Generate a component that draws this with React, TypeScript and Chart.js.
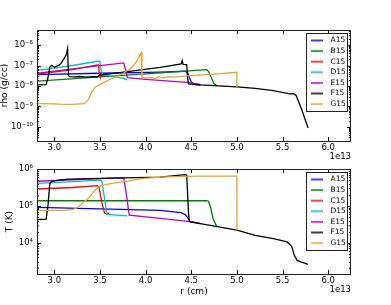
import { useEffect, useRef } from "react";
import { Chart, registerables } from "chart.js";

Chart.register(...registerables);

const FONT = "'DejaVu Sans', 'Bitstream Vera Sans', sans-serif";

const seriesNames = ["A15", "B15", "C15", "D15", "E15", "F15", "G15"];
const seriesColors = ["#0000ff", "#008000", "#ff0000", "#00bfbf", "#bf00bf", "#000000", "#e8a528"];

// radius axis, in units of 1e13 cm
const xTickValues = [3.0, 3.5, 4.0, 4.5, 5.0, 5.5, 6.0];
const xMin = 2.81;
const xMax = 6.25;

const rhoTickValues = [1e-10, 1e-9, 1e-8, 1e-7, 1e-6];
const rhoMin = 2.0e-11;
const rhoMax = 5.5e-6;

const tempTickValues = [1e4, 1e5, 1e6];
const tempMin = 1.41e3;
const tempMax = 1e6;

// ---------- density (g/cc) ----------
const rRhoA = [2.82, 3.5, 4.16, 4.43, 4.46, 4.48, 4.5, 4.53, 4.6];
const rhoA = [3.55e-8, 4.17e-8, 4.79e-8, 5.25e-8, 4.47e-8, 2.51e-8, 1.58e-8, 1.2e-8, 1.1e-8];

const rRhoB = [2.82, 3.5, 4.16, 4.67, 4.69, 4.72, 4.75, 4.78];
const rhoB = [1.7e-8, 2.75e-8, 4.37e-8, 6.31e-8, 5.01e-8, 2.51e-8, 1.26e-8, 1.02e-8];

const rRhoC = [2.82, 3.2, 3.47, 3.485, 3.49, 3.5, 3.55];
const rhoC = [3.8e-8, 6.31e-8, 1.07e-7, 1.07e-7, 5.01e-8, 3.16e-8, 2.95e-8];

const rRhoD = [2.82, 3.2, 3.49, 3.5, 3.51, 3.53, 3.75, 3.8];
const rhoD = [5.75e-8, 1.0e-7, 1.66e-7, 1.58e-7, 6.31e-8, 3.55e-8, 2.4e-8, 2.0e-8];

const rRhoE = [2.82, 3.2, 3.5, 3.76, 3.78, 3.8, 4.0, 4.45, 4.6];
const rhoE = [4.17e-8, 6.92e-8, 9.77e-8, 1.35e-7, 6.31e-8, 2.51e-8, 2.09e-8, 1.48e-8, 1.2e-8];

const rRhoF = [2.82, 2.91, 2.93, 2.95, 2.97, 3.0, 3.05, 3.07, 3.1, 3.13, 3.145, 3.155, 3.17, 3.22, 3.28, 3.35, 3.42, 3.47, 3.5, 3.8, 4.16, 4.39, 4.4, 4.41, 4.45, 4.46, 4.47, 4.6, 5.0, 5.2, 5.4, 5.58, 5.62, 5.65, 5.71, 5.78];
const rhoF = [1.12e-8, 1.15e-8, 2.51e-8, 8.13e-8, 1.02e-7, 8.13e-8, 1.05e-7, 1.2e-7, 1.95e-7, 3.39e-7, 6.76e-7, 3.16e-8, 2.82e-8, 2.75e-8, 2.9e-8, 2.7e-8, 2.85e-8, 2.82e-8, 3.39e-8, 5.01e-8, 8.13e-8, 1.2e-7, 1.74e-7, 1.15e-7, 1.12e-7, 2.51e-8, 1.26e-8, 1.12e-8, 8.91e-9, 7.59e-9, 5.89e-9, 4.07e-9, 4.17e-9, 3.31e-9, 6.92e-10, 8.71e-11];

const rRhoG = [2.82, 3.0, 3.1, 3.2, 3.33, 3.37, 3.41, 3.45, 3.5, 3.6, 3.75, 3.85, 3.9, 3.95, 3.96, 4.0, 4.05, 4.1, 4.15, 4.2, 4.25, 4.3, 4.5, 4.75, 5.0, 5.0];
const rhoG = [1.35e-9, 1.32e-9, 1.26e-9, 1.26e-9, 1.35e-9, 2.0e-9, 5.01e-9, 8.91e-9, 1.15e-8, 2.0e-8, 3.98e-8, 7.94e-8, 1.58e-7, 4.17e-7, 2.51e-8, 2.4e-8, 2.63e-8, 2.34e-8, 2.75e-8, 2.51e-8, 2.82e-8, 2.69e-8, 3.16e-8, 3.8e-8, 4.68e-8, 8.91e-9];

// ---------- temperature (K) ----------
const rTA = [2.82, 3.5, 4.16, 4.38, 4.43, 4.46, 4.49, 4.6];
const tA = [9.12e4, 8.32e4, 7.59e4, 6.61e4, 5.89e4, 4.79e4, 3.72e4, 3.31e4];

const rTB = [2.82, 4.67, 4.69, 4.71, 4.74, 4.78];
const tB = [1.38e5, 1.38e5, 1.32e5, 9.33e4, 4.47e4, 2.75e4];

const rTC = [2.82, 3.2, 3.47, 3.49, 3.52, 3.55, 3.6];
const tC = [2.88e5, 3.16e5, 3.55e5, 3.16e5, 1.26e5, 6.31e4, 6.03e4];

const rTD = [2.82, 3.2, 3.5, 3.52, 3.55, 3.575, 3.8];
const tD = [4.07e5, 4.57e5, 5.01e5, 4.79e5, 1.58e5, 5.89e4, 5.37e4];

const rTE = [2.82, 3.5, 3.76, 3.79, 3.82, 4.16, 4.49, 4.6];
const tE = [4.68e5, 5.5e5, 5.89e5, 2.0e5, 5.62e4, 4.57e4, 3.72e4, 3.31e4];

const rTF = [2.82, 2.91, 2.93, 2.95, 2.97, 3.05, 3.155, 3.5, 4.16, 4.43, 4.45, 4.47, 4.48, 4.6, 5.0, 5.2, 5.4, 5.55, 5.6, 5.63, 5.66, 5.7, 5.78];
const tF = [4.27e4, 4.37e4, 1.0e5, 3.98e5, 4.68e5, 5.01e5, 5.37e5, 5.62e5, 6.03e5, 7.08e5, 6.92e5, 6.31e4, 3.72e4, 3.31e4, 2.19e4, 1.58e4, 1.29e4, 1.05e4, 7.94e3, 4.47e3, 3.31e3, 3.02e3, 2.57e3];

const rTG = [2.82, 3.1, 3.2, 3.25, 3.3, 3.38, 3.45, 3.5, 3.6, 3.76, 3.98, 4.2, 4.6, 5.0, 5.0];
const tG = [7.59e4, 7.59e4, 7.94e4, 8.91e4, 1.12e5, 1.7e5, 2.69e5, 3.47e5, 3.98e5, 4.57e5, 5.62e5, 6.17e5, 6.46e5, 6.46e5, 2.19e4];

const rhoR = [rRhoA, rRhoB, rRhoC, rRhoD, rRhoE, rRhoF, rRhoG];
const rhoV = [rhoA, rhoB, rhoC, rhoD, rhoE, rhoF, rhoG];
const tR = [rTA, rTB, rTC, rTD, rTE, rTF, rTG];
const tV = [tA, tB, tC, tD, tE, tF, tG];

const SUP: Record<string, string> = {
  "-": "\u207B", "0": "\u2070", "1": "\u00B9", "2": "\u00B2", "3": "\u00B3",
  "4": "\u2074", "5": "\u2075", "6": "\u2076", "7": "\u2077", "8": "\u2078", "9": "\u2079",
};
function powLabel(v: number) {
  const e = String(Math.round(Math.log10(v)));
  return "10" + e.split("").map((c) => SUP[c] || c).join("");
}

function buildDatasets(rs: number[][], vs: number[][]) {
  return seriesNames.map((name, i) => ({
    label: name,
    data: rs[i].map((r, j) => ({ x: r, y: vs[i][j] })),
    borderColor: seriesColors[i],
    backgroundColor: seriesColors[i],
    borderWidth: 1.3,
    pointRadius: 0,
    fill: false,
    tension: 0,
    order: seriesNames.length - i,
  }));
}

const framePlugin = {
  id: "frameTicks",
  afterDatasetsDraw(chart: any) {
    const { ctx, chartArea, scales } = chart;
    const { left, right, top, bottom } = chartArea;
    ctx.save();
    ctx.strokeStyle = "#000";
    ctx.lineWidth = 1;
    ctx.beginPath();
    for (const v of xTickValues) {
      const px = Math.round(scales.x.getPixelForValue(v)) + 0.5;
      ctx.moveTo(px, bottom);
      ctx.lineTo(px, bottom - 4);
      ctx.moveTo(px, top);
      ctx.lineTo(px, top + 4);
    }
    const ys = scales.y;
    const lo = Math.floor(Math.log10(ys.min));
    const hi = Math.ceil(Math.log10(ys.max));
    for (let d = lo; d <= hi; d++) {
      for (let k = 1; k <= 9; k++) {
        const v = k * Math.pow(10, d);
        if (v < ys.min || v > ys.max) continue;
        const py = Math.round(ys.getPixelForValue(v)) + 0.5;
        const len = k === 1 ? 4 : 2;
        ctx.moveTo(left, py);
        ctx.lineTo(left + len, py);
        ctx.moveTo(right, py);
        ctx.lineTo(right - len, py);
      }
    }
    ctx.stroke();
    ctx.strokeStyle = "#222";
    ctx.strokeRect(Math.round(left) + 0.5, Math.round(top) + 0.5, Math.round(right - left) - 1, Math.round(bottom - top));
    ctx.restore();
  },
  afterDraw(chart: any) {
    const { ctx, chartArea } = chart;
    // offset text
    ctx.save();
    ctx.fillStyle = "#000";
    ctx.font = `8.5px ${FONT}`;
    ctx.textAlign = "right";
    ctx.textBaseline = "middle";
    ctx.fillText("1e13", chartArea.right, chartArea.bottom + 15.5);
    // legend
    const w = 41;
    const h = 78;
    const x0 = Math.round(chartArea.right - 4.5 - w) + 0.5;
    const y0 = Math.round(chartArea.top + 3) + 0.5;
    ctx.fillStyle = "#fff";
    ctx.fillRect(x0, y0, w, h);
    ctx.strokeStyle = "#222";
    ctx.lineWidth = 1;
    ctx.strokeRect(x0, y0, w, h);
    ctx.font = `7.5px ${FONT}`;
    ctx.textAlign = "left";
    ctx.textBaseline = "middle";
    chart.data.datasets.forEach((ds: any, i: number) => {
      const y = y0 + 7 + i * 10.6;
      ctx.globalAlpha = 0.75;
      ctx.strokeStyle = ds.borderColor;
      ctx.lineWidth = 2;
      ctx.beginPath();
      ctx.moveTo(x0 + 4.5, y);
      ctx.lineTo(x0 + 16.5, y);
      ctx.stroke();
      ctx.globalAlpha = 1;
      ctx.fillStyle = "#000";
      ctx.fillText(ds.label, x0 + 24, y);
    });
    ctx.restore();
  },
};

function makeConfig(opts: {
  rs: number[][];
  vs: number[][];
  yMin: number;
  yMax: number;
  yTicks: number[];
  yTitle: string;
  yTitlePad: number;
  padTop: number;
  xAxisHeight: number;
  xTitle?: string;
}): any {
  return {
    type: "line",
    data: { datasets: buildDatasets(opts.rs, opts.vs) },
    plugins: [framePlugin],
    options: {
      animation: false,
      responsive: false,
      devicePixelRatio: 1,
      events: [],
      layout: { padding: { left: 0, right: 40, top: opts.padTop, bottom: 0 } },
      plugins: { legend: { display: false }, tooltip: { enabled: false } },
      scales: {
        x: {
          type: "linear",
          min: xMin,
          max: xMax,
          afterBuildTicks: (s: any) => {
            s.ticks = xTickValues.map((v) => ({ value: v }));
          },
          afterFit: (s: any) => {
            s.height = opts.xAxisHeight;
          },
          grid: { display: false, drawTicks: false },
          border: { display: false },
          ticks: {
            autoSkip: false,
            maxRotation: 0,
            padding: 2,
            color: "#000",
            font: { family: FONT, size: 8.5 },
            callback: (v: any) => Number(v).toFixed(1),
          },
          title: opts.xTitle
            ? {
                display: true,
                text: opts.xTitle,
                color: "#000",
                font: { family: FONT, size: 9 },
                padding: { top: 0, bottom: 7.9 },
              }
            : { display: false },
        },
        y: {
          type: "logarithmic",
          min: opts.yMin,
          max: opts.yMax,
          afterBuildTicks: (s: any) => {
            s.ticks = opts.yTicks.map((v) => ({ value: v }));
          },
          afterFit: (s: any) => {
            s.width = 37;
          },
          grid: { display: false, drawTicks: false },
          border: { display: false },
          ticks: {
            autoSkip: false,
            padding: 4,
            color: "#000",
            font: { family: FONT, size: 8.5 },
            callback: (v: any) => powLabel(Number(v)),
          },
          title: {
            display: true,
            text: opts.yTitle,
            color: "#000",
            font: { family: FONT, size: 9 },
            padding: { top: opts.yTitlePad, bottom: 0 },
          },
        },
      },
    },
  };
}

export default function App() {
  const topRef = useRef<HTMLCanvasElement>(null);
  const botRef = useRef<HTMLCanvasElement>(null);

  useEffect(() => {
    const c1 = new Chart(
      topRef.current as HTMLCanvasElement,
      makeConfig({
        rs: rhoR,
        vs: rhoV,
        yMin: rhoMin,
        yMax: rhoMax,
        yTicks: rhoTickValues,
        yTitle: "rho (g/cc)",
        yTitlePad: -1,
        padTop: 30,
        xAxisHeight: 19,
      })
    );
    const c2 = new Chart(
      botRef.current as HTMLCanvasElement,
      makeConfig({
        rs: tR,
        vs: tV,
        yMin: tempMin,
        yMax: tempMax,
        yTicks: tempTickValues,
        yTitle: "T (K)",
        yTitlePad: 4.6,
        padTop: 3,
        xAxisHeight: 31,
        xTitle: "r (cm)",
      })
    );
    return () => {
      c1.destroy();
      c2.destroy();
    };
  }, []);

  return (
    <div style={{ position: "absolute", left: 0, top: 0, width: 391, height: 305, background: "#fff" }}>
      <canvas
        ref={topRef}
        width={391}
        height={160}
        style={{ position: "absolute", left: 0, top: 0, width: 391, height: 160 }}
      />
      <canvas
        ref={botRef}
        width={391}
        height={145}
        style={{ position: "absolute", left: 0, top: 160, width: 391, height: 145 }}
      />
    </div>
  );
}
